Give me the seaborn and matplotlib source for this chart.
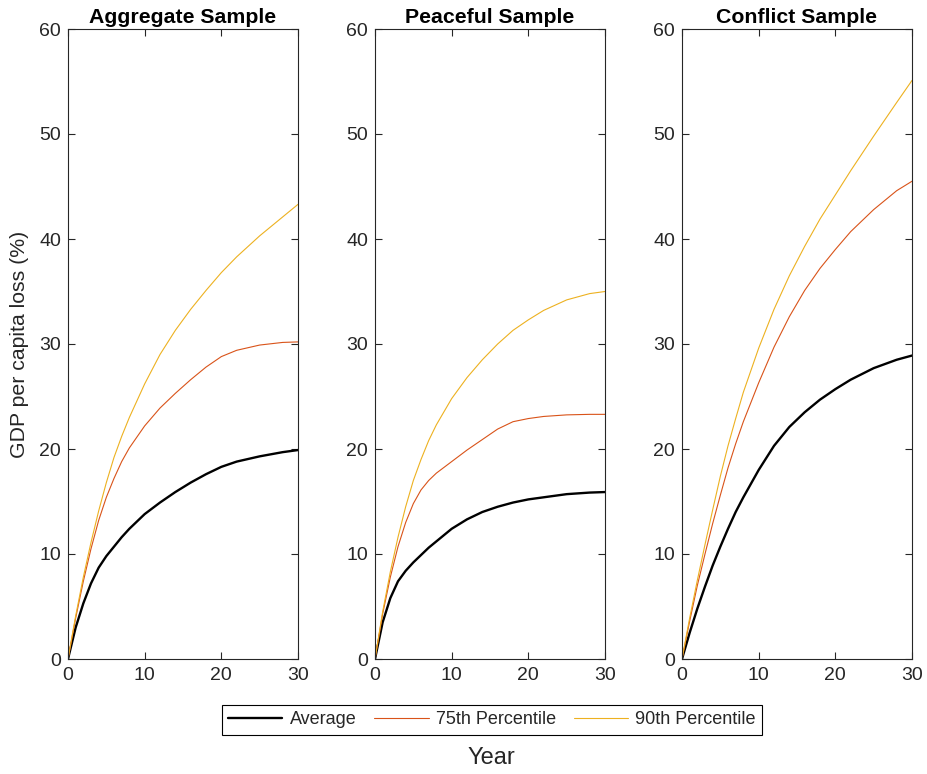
import numpy as np
import pandas as pd
import matplotlib
matplotlib.use("Agg")
import matplotlib.pyplot as plt
from matplotlib.lines import Line2D
import seaborn as sns

# ---- data ----
years = [0, 1, 2, 3, 4, 5, 6, 7, 8, 10, 12, 14, 16, 18, 20, 22, 25, 28, 30]

agg_avg = [0, 3.0, 5.3, 7.2, 8.7, 9.8, 10.7, 11.6, 12.4, 13.8, 14.9, 15.9, 16.8, 17.6, 18.3, 18.8, 19.3, 19.7, 19.9]
agg_p75 = [0, 3.9, 7.4, 10.5, 13.2, 15.4, 17.2, 18.8, 20.1, 22.2, 23.9, 25.3, 26.6, 27.8, 28.8, 29.4, 29.9, 30.15, 30.2]
agg_p90 = [0, 4.1, 7.8, 11.1, 14.1, 16.8, 19.2, 21.2, 23.0, 26.2, 29.0, 31.3, 33.3, 35.1, 36.8, 38.3, 40.3, 42.1, 43.3]

pea_avg = [0, 3.5, 5.8, 7.4, 8.4, 9.2, 9.9, 10.6, 11.2, 12.4, 13.3, 14.0, 14.5, 14.9, 15.2, 15.4, 15.7, 15.85, 15.9]
pea_p75 = [0, 4.3, 7.8, 10.7, 13.0, 14.8, 16.1, 17.0, 17.7, 18.8, 19.9, 20.9, 21.9, 22.6, 22.9, 23.1, 23.25, 23.3, 23.3]
pea_p90 = [0, 4.5, 8.3, 11.6, 14.5, 17.0, 19.0, 20.8, 22.3, 24.8, 26.8, 28.5, 30.0, 31.3, 32.3, 33.2, 34.2, 34.8, 35.0]

con_avg = [0, 2.5, 4.8, 6.9, 8.9, 10.7, 12.4, 14.0, 15.4, 18.0, 20.3, 22.1, 23.5, 24.7, 25.7, 26.6, 27.7, 28.5, 28.9]
con_p75 = [0, 3.6, 7.0, 10.0, 12.9, 15.6, 18.2, 20.5, 22.6, 26.3, 29.7, 32.6, 35.1, 37.2, 39.0, 40.7, 42.8, 44.6, 45.5]
con_p90 = [0, 3.9, 7.5, 10.9, 14.2, 17.4, 20.3, 22.9, 25.4, 29.6, 33.3, 36.5, 39.3, 41.9, 44.2, 46.5, 49.8, 53.0, 55.1]

panel_titles = ["Aggregate Sample", "Peaceful Sample", "Conflict Sample"]
series_names = ["Average", "75th Percentile", "90th Percentile"]
panel_data = [
    [agg_avg, agg_p75, agg_p90],
    [pea_avg, pea_p75, pea_p90],
    [con_avg, con_p75, con_p90],
]
x_ticks = [0, 10, 20, 30]
y_ticks = [0, 10, 20, 30, 40, 50, 60]

# ---- styling ----
colors = {"Average": "#000000", "75th Percentile": "#D95319", "90th Percentile": "#EDB120"}
widths = {"Average": 1.7, "75th Percentile": 0.8, "90th Percentile": 0.8}
axcol = "#262626"

sns.set_style("ticks")
plt.rcParams['font.family'] = ['Liberation Sans', 'DejaVu Sans']

W, H = 927, 774
fig = plt.figure(figsize=(W / 100, H / 100), dpi=100)

lefts = [68, 375, 682]
ax_w, top_px, bot_px = 230, 29, 659

for i, left in enumerate(lefts):
    ax = fig.add_axes([left / W, 1 - bot_px / H, ax_w / W, (bot_px - top_px) / H])
    for name, vals in zip(series_names, panel_data[i]):
        df = pd.DataFrame({"Year": years, "Loss": vals})
        sns.lineplot(data=df, x="Year", y="Loss", ax=ax, color=colors[name],
                     linewidth=widths[name], legend=False)
    ax.set_xlim(0, 30)
    ax.set_ylim(0, 60)
    ax.set_xticks(x_ticks)
    ax.set_yticks(y_ticks)
    ax.set_xlabel("")
    ax.set_ylabel("")
    ax.tick_params(direction="in", top=True, right=True, length=5, width=0.8,
                   color=axcol, labelcolor=axcol, labelsize=14)
    ax.tick_params(axis="x", pad=6)
    ax.tick_params(axis="y", pad=5)
    for s in ax.spines.values():
        s.set_visible(True)
        s.set_color(axcol)
        s.set_linewidth(0.8)
    ax.set_title(panel_titles[i], fontsize=15.3, fontweight="bold", pad=4, color="#000000")

fig.text(20 / W, 1 - 344 / H, "GDP per capita loss (%)", rotation=90,
         ha="center", va="center", fontsize=15.3, color=axcol)
fig.text(491 / W, 1 - 758 / H, "Year", ha="center", va="center", fontsize=17, color=axcol)

handles = [Line2D([], [], color=colors[n], linewidth=widths[n]) for n in series_names]
leg = fig.legend(handles, series_names, loc="center", bbox_to_anchor=(492 / W, 1 - 720 / H),
                 ncol=3, frameon=True, fancybox=False, edgecolor="#000000", framealpha=1,
                 fontsize=13, handlelength=3.0, columnspacing=1.0, borderpad=0.35,
                 handletextpad=0.4)
leg.get_frame().set_linewidth(0.8)
for t in leg.get_texts():
    t.set_color(axcol)

fig.savefig("out.png", dpi=100)
